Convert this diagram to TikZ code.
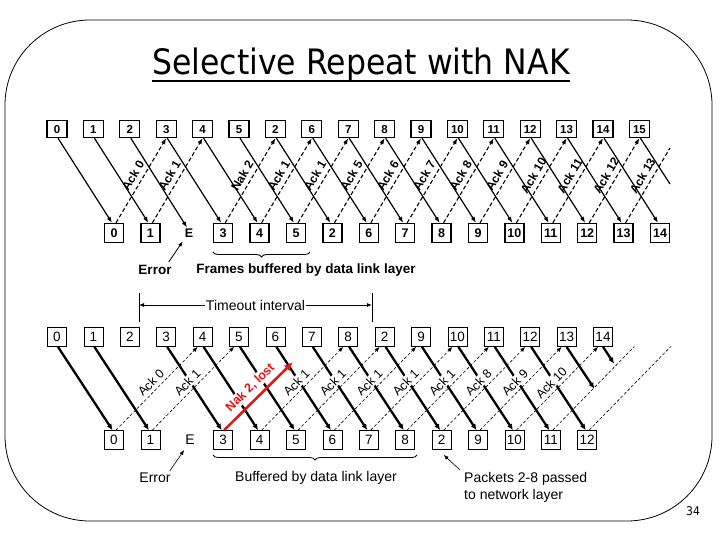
\documentclass[tikz,border=0pt]{standalone}
\usepackage{fontspec}
\setmainfont{Liberation Sans}
\newfontfamily\titlefont{DejaVu Sans}[FakeStretch=0.9]
\usetikzlibrary{arrows.meta,calc,decorations.pathreplacing}
\definecolor{nakred}{RGB}{222,24,24}
\begin{document}
\begin{tikzpicture}[x=1pt,y=-1pt,
  tbox/.style={draw, line width=1.3pt, minimum width=20pt, minimum height=17pt, inner sep=0pt, text height=8.3pt, text depth=0pt, font=\fontsize{11.5}{12}\selectfont\bfseries},
  tboxl/.style={draw, line width=1.3pt, minimum width=19pt, minimum height=19pt, inner sep=0pt, text height=9pt, text depth=0pt, font=\fontsize{12.5}{13}\selectfont\bfseries},
  bbox/.style={draw, line width=0.8pt, minimum width=19pt, minimum height=19pt, inner sep=0pt, text height=9.6pt, text depth=0pt, font=\fontsize{13.5}{14}\selectfont},
  aframe/.style={line width=1.2pt, -{Latex[length=6pt,width=4.5pt]}},
  aack/.style={line width=1.1pt, dash pattern=on 4pt off 2.5pt, -{Latex[length=6pt,width=4.5pt]}},
  alabel/.style={sloped, above=3.5pt, inner sep=1pt, font=\fontsize{12}{13}\selectfont\bfseries},
  bframe/.style={line width=2.3pt, -{Latex[length=6pt,width=5.5pt]}},
  back/.style={line width=0.6pt, dash pattern=on 3pt off 2pt, -{Latex[length=5pt,width=4pt]}},
  blabel/.style={sloped, above=2.5pt, inner sep=1pt, fill=white, font=\fontsize{12.5}{13}\selectfont},
  pointer/.style={line width=0.8pt, -{Latex[length=5pt,width=4pt]}},
  anote/.style={inner sep=0pt, font=\fontsize{13.5}{14}\selectfont\bfseries},
  bnote/.style={inner sep=0pt, font=\fontsize{14}{17}\selectfont}
]
\useasboundingbox (0,0) rectangle (720,540);
% frame and title
\draw[line width=0.8pt, rounded corners=85pt] (5,20) rectangle (712,521);
\node[font=\titlefont\fontsize{35}{38}\selectfont, inner sep=0pt, anchor=base] (title) at (361,75) {Selective Repeat with NAK};
\draw[line width=1.8pt] ([yshift=-6pt]title.base west) -- ([yshift=-6pt]title.base east);
\node[font=\titlefont\fontsize{12}{12}\selectfont, inner sep=0pt] (page) at (693,511) {34};

% ===== top diagram =====
\foreach \l [count=\i from 0] in {0,1,2,3,4,5,2,6,7,8,9,10,11,12,13,14,15}
  \node[tbox] (At\i) at ({57+36.4*\i},129) {\l};
\foreach \i/\l in {0/0,1/1,3/3,4/4,5/5,6/2,7/6,8/7,9/8,10/9,11/10,12/11,13/12,14/13,15/14}
  \node[tboxl] (Ab\i) at ({114+36.4*\i},233) {\l};
\node[font=\fontsize{12.5}{13}\selectfont\bfseries, inner sep=1pt] (Ab2) at (189,233) {E};

\foreach \i in {0,...,15}
  \draw[aframe] ([xshift=1pt]At\i.south) -- ([xshift=-2pt]Ab\i.north);
\coordinate (Aoff1) at (670,184);
\draw[line width=1.2pt] ([xshift=1pt]At16.south) -- (Aoff1);

\foreach \j/\l in {0/Ack 0,1/Ack 1,3/Nak 2,4/Ack 1,5/Ack 1,6/Ack 5,7/Ack 6,8/Ack 7,9/Ack 8,10/Ack 9,11/Ack 10,12/Ack 11,13/Ack 12}{
  \pgfmathtruncatemacro{\k}{\j+3}
  \draw[aack] ([xshift=2pt]Ab\j.north) -- (At\k.south) node[midway, alabel] {\l};
}
\coordinate (Aoff2) at (670,148);
\draw[aack, -] ([xshift=2pt]Ab14.north) -- (Aoff2) node[pos=0.565, alabel] {Ack 13};

\node[anote] (Aerr) at (155,270) {Error};
\draw[pointer] ([shift={(-3pt,3pt)}]Aerr.north east) -- ([shift={(-1pt,-3pt)}]Ab2.south west);
\draw[line width=0.9pt, decorate, decoration={brace,mirror,amplitude=5pt}] (213,252) -- (310,252);
\node[anote] (Abuf) at (306,270) {Frames buffered by data link layer};

% ===== bottom diagram =====
\foreach \l [count=\i from 0] in {0,1,2,3,4,5,6,7,8,2,9,10,11,12,13,14}
  \node[bbox] (Bt\i) at ({57+36.4*\i},337) {\l};
\foreach \i/\l in {0/0,1/1,3/3,4/4,5/5,6/6,7/7,8/8,9/2,10/9,11/10,12/11,13/12}
  \node[bbox] (Bb\i) at ({114+36.4*\i},440) {\l};
\node[font=\fontsize{14}{15}\selectfont, inner sep=1pt] (Bb2) at (190,440) {E};

\foreach \i in {0,1,3,4,5,6,7,8,9,10,11,12,13}
  \draw[bframe] ([xshift=1pt]Bt\i.south) -- ([xshift=-1.5pt]Bb\i.north);
\coordinate (Bg14) at ({114+36.4*14-1.5},430.5);
\coordinate (Bg15) at ({114+36.4*15-1.5},430.5);
\draw[bframe] (Bt14.south) -- ($(Bt14.south)!0.5!(Bg14)$);
\draw[bframe] (Bt15.south) -- ($(Bt15.south)!0.2!(Bg15)$);

\foreach \j in {0,1,4,5,6,7,8,9,10,11}{
  \pgfmathtruncatemacro{\k}{\j+4}
  \draw[back] ([xshift=2pt]Bb\j.north) -- ([xshift=-5pt]Bt\k.south);
}
\coordinate (Bg16) at ({57+36.4*16-5},346.5);
\coordinate (Bg17) at (670.8,346.5);
\draw[back, -] ([xshift=2pt]Bb12.north) -- (Bg16);
\draw[back, -] ([xshift=2pt]Bb13.north) -- (Bg17);

\coordinate (Rend) at (293,362);
\draw[nakred, line width=2.6pt, -{Latex[length=9pt,width=8pt]}] ([xshift=1pt]Bb3.north) -- (Rend);

\foreach \j/\l in {0/Ack 0,1/Ack 1,4/Ack 1,5/Ack 1,6/Ack 1,7/Ack 1,8/Ack 1,9/Ack 8,10/Ack 9,11/Ack 10}{
  \pgfmathtruncatemacro{\k}{\j+4}
  \path ([xshift=2pt]Bb\j.north) -- ([xshift=-5pt]Bt\k.south) node[midway, blabel] {\l};
}
\path ([xshift=1pt]Bb3.north) -- (Rend) node[pos=0.5, sloped, above=5pt, fill=white, inner sep=1pt, text=nakred, font=\fontsize{12.5}{13}\selectfont\bfseries] {Nak 2, lost};

% timeout interval
\coordinate (TLa) at (139,293); \coordinate (TLb) at (139,322);
\coordinate (TRa) at (372,293); \coordinate (TRb) at (372,322);
\coordinate (TLm) at (139,305); \coordinate (TRm) at (372,305);
\draw[line width=0.8pt] (TLa) -- (TLb);
\draw[line width=0.8pt] (TRa) -- (TRb);
\draw[line width=0.8pt, {Latex[length=5pt,width=4pt]}-{Latex[length=5pt,width=4pt]}] (TLm) -- (TRm) node[midway, fill=white, inner sep=1pt, font=\fontsize{14}{15}\selectfont] {Timeout interval};

\node[bnote] (Berr) at (155,478) {Error};
\draw[pointer, line width=0.6pt] ([shift={(-1pt,2pt)}]Berr.north east) -- ([shift={(0pt,-4pt)}]Bb2.south west);
\draw[line width=0.8pt, decorate, decoration={brace,mirror,amplitude=5pt}] (213,455) -- (417,455);
\node[bnote] (Bbuf) at (316,478) {Buffered by data link layer};
\node[bnote, anchor=north west, align=left] (Bpk) at (464,472) {Packets 2-8 passed\\to network layer};
\draw[pointer, line width=0.6pt] ([shift={(-4pt,2pt)}]Bpk.north west) -- ([shift={(2pt,-5pt)}]Bb9.south);
\end{tikzpicture}
\end{document}
